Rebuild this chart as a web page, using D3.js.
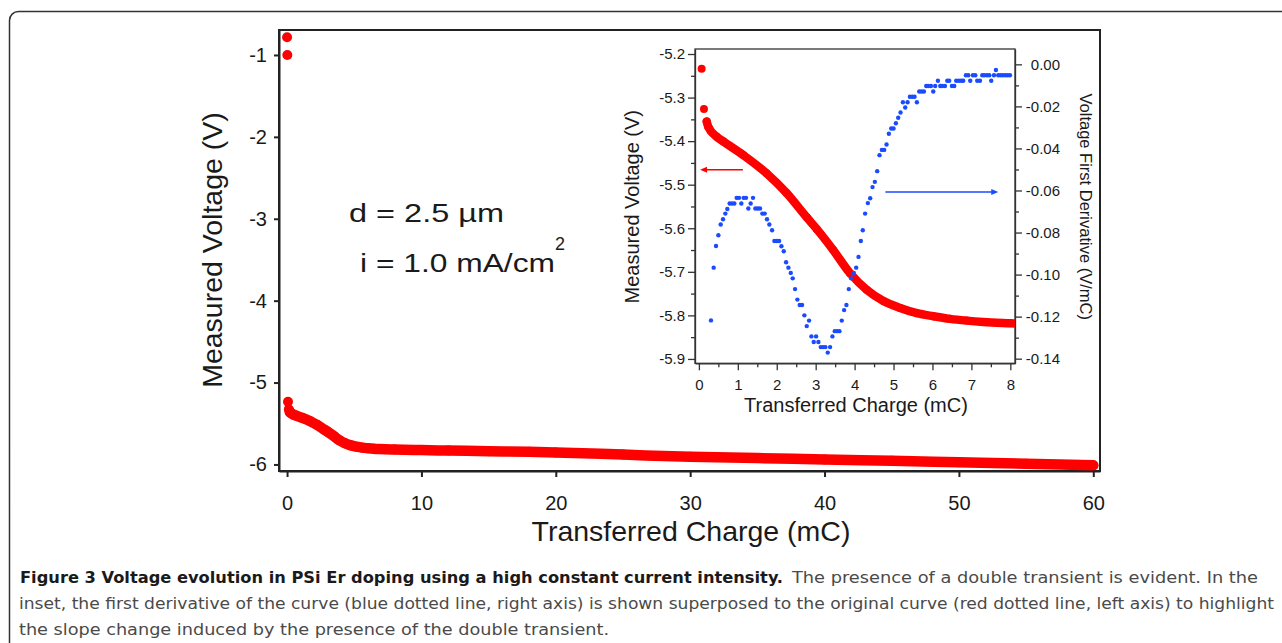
<!DOCTYPE html>
<html>
<head>
<meta charset="utf-8">
<script src="https://cdn.jsdelivr.net/npm/d3@7"></script>
<style>
  body { margin: 0; background: #fff; }
  svg { display: block; }
  text { font-family: "Liberation Sans", Arial, sans-serif; fill: #1a1a1a; }
  .caption text { font-family: "DejaVu Sans Condensed", "DejaVu Sans", sans-serif; font-stretch: condensed; }
</style>
</head>
<body>
<svg id="chart" width="1282" height="643"></svg>
<script>
// Measured voltage (red dotted curve), shared by main plot and inset
const redCharge = [0, 0.02, 0.07, 0.13, 0.2, 0.24, 0.46, 0.63, 1.14, 1.74, 2.25, 2.77, 3.03, 3.45, 3.88,
  4.31, 4.74, 5.17, 5.6, 6.02, 6.45, 6.88, 7.31, 7.99, 10, 12, 15, 18, 20, 25, 30, 35, 40, 45, 50, 55, 60];
const redVoltage = [-0.784, -1.0, -5.234, -5.326, -5.355, -5.367, -5.39, -5.401, -5.432, -5.474, -5.519,
  -5.575, -5.602, -5.65, -5.703, -5.741, -5.767, -5.783, -5.795, -5.802, -5.808, -5.812, -5.815, -5.818,
  -5.825, -5.83, -5.838, -5.845, -5.853, -5.88, -5.907, -5.922, -5.94, -5.956, -5.973, -5.99, -6.01];

// First derivative (blue dotted curve, inset right axis)
const blueCharge = [0.31, 0.38, 0.44, 0.50, 0.56, 0.62, 0.68, 0.73, 0.79, 0.85, 0.91, 0.97, 1.03, 1.09, 1.15,
  1.21, 1.27, 1.33, 1.39, 1.45, 1.51, 1.57, 1.63, 1.69, 1.75, 1.81, 1.88, 1.94, 2.00, 2.06, 2.12, 2.18, 2.24,
  2.30, 2.36, 2.41, 2.47, 2.53, 2.59, 2.65, 2.71, 2.77, 2.83, 2.89, 2.95, 3.01, 3.07, 3.13, 3.19, 3.25, 3.31,
  3.37, 3.43, 3.49, 3.55, 3.61, 3.67, 3.73, 3.79, 3.85, 3.91, 3.98, 4.04, 4.10, 4.16, 4.21, 4.27, 4.34, 4.40,
  4.46, 4.52, 4.58, 4.64, 4.70, 4.76, 4.82, 4.88, 4.94, 5.00, 5.06, 5.12, 5.18, 5.24, 5.30, 5.36, 5.42, 5.48,
  5.54, 5.60, 5.66, 5.72, 5.78, 5.84, 5.89, 5.96, 6.02, 6.07, 6.14, 6.20, 6.25, 6.32, 6.38, 6.43, 6.50, 6.56,
  6.61, 6.68, 6.74, 6.79, 6.86, 6.92, 6.97, 7.04, 7.10, 7.15, 7.22, 7.28, 7.33, 7.40, 7.46, 7.51, 7.58, 7.63,
  7.69, 7.75, 7.81, 7.87, 7.93, 7.99];
const blueDeriv = [-0.1218, -0.0967, -0.0864, -0.0813, -0.0762, -0.0737, -0.0710, -0.0688, -0.0662, -0.0662,
  -0.0662, -0.0635, -0.0635, -0.0662, -0.0635, -0.0635, -0.0686, -0.0662, -0.0635, -0.0686, -0.0686, -0.0686,
  -0.0710, -0.0710, -0.0737, -0.0762, -0.0789, -0.0840, -0.0840, -0.0840, -0.0865, -0.0889, -0.0941, -0.0967,
  -0.0992, -0.1018, -0.1069, -0.1119, -0.1145, -0.1145, -0.1194, -0.1245, -0.1219, -0.1294, -0.1321, -0.1294,
  -0.1321, -0.1345, -0.1345, -0.1345, -0.1371, -0.1345, -0.1294, -0.1269, -0.1269, -0.1269, -0.1219, -0.1169,
  -0.1145, -0.1069, -0.1018, -0.0992, -0.0967, -0.0916, -0.0840, -0.0789, -0.0710, -0.0660, -0.0637, -0.0584,
  -0.0559, -0.0508, -0.0432, -0.0407, -0.0407, -0.0381, -0.0330, -0.0305, -0.0305, -0.0280, -0.0254, -0.0229,
  -0.0180, -0.0205, -0.0180, -0.0154, -0.0154, -0.0154, -0.0180, -0.0129, -0.0129, -0.0129, -0.0103, -0.0103,
  -0.0103, -0.0129, -0.0103, -0.0078, -0.0103, -0.0103, -0.0103, -0.0078, -0.0078, -0.0103, -0.0103, -0.0078,
  -0.0078, -0.0078, -0.0078, -0.0052, -0.0052, -0.0078, -0.0052, -0.0052, -0.0078, -0.0078, -0.0052, -0.0052,
  -0.0052, -0.0052, -0.0078, -0.0052, -0.0027, -0.0052, -0.0052, -0.0052, -0.0052, -0.0052, -0.0052];

// Tick values
const mainXTicks = [0, 10, 20, 30, 40, 50, 60];
const mainYTicks = [-1, -2, -3, -4, -5, -6];
const insetXTicks = [0, 1, 2, 3, 4, 5, 6, 7, 8];
const insetYTicks = [-5.2, -5.3, -5.4, -5.5, -5.6, -5.7, -5.8, -5.9];
const insetY2Ticks = [0, -0.02, -0.04, -0.06, -0.08, -0.10, -0.12, -0.14];

const red = "#ff0000", blue = "#1a4bff", axisColor = "#222";

const svg = d3.select("#chart");
svg.append("rect").attr("width", 1282).attr("height", 643).attr("fill", "#fff");

// Outer figure frame (rounded corner, running off page right/bottom)
svg.append("rect")
  .attr("x", 9.5).attr("y", 11.5).attr("width", 1300).attr("height", 700)
  .attr("rx", 9).attr("fill", "none").attr("stroke", "#333").attr("stroke-width", 1.5);

const redData = redCharge.map((c, i) => ({c, v: redVoltage[i]}));
const blueData = blueCharge.map((c, i) => ({c, d: blueDeriv[i]}));

// ---------- Main plot ----------
const x = d3.scaleLinear().domain([-0.6, 60.5]).range([279, 1100]);
const y = d3.scaleLinear().domain([-6.08, -0.695]).range([471, 30]);

svg.append("rect")
  .attr("x", 279).attr("y", 30).attr("width", 821).attr("height", 441)
  .attr("fill", "none").attr("stroke", axisColor).attr("stroke-width", 2);

const gx = svg.append("g")
  .attr("transform", "translate(0,471)")
  .call(d3.axisBottom(x).tickValues(mainXTicks).tickSize(6).tickSizeOuter(0).tickPadding(19)
    .tickFormat(d => String(d)));
const gy = svg.append("g")
  .attr("transform", "translate(279,0)")
  .call(d3.axisLeft(y).tickValues(mainYTicks).tickSize(5).tickSizeOuter(0).tickPadding(7)
    .tickFormat(d => String(d)));
[gx, gy].forEach(g => {
  g.select(".domain").attr("stroke", axisColor).attr("stroke-width", 2);
  g.selectAll(".tick line").attr("stroke", axisColor).attr("stroke-width", 2);
  g.selectAll(".tick text").attr("font-size", 20).attr("fill", "#1a1a1a")
    .attr("font-family", "'Liberation Sans', Arial, sans-serif");
});

svg.append("text")
  .attr("x", 691).attr("y", 541).attr("text-anchor", "middle").attr("font-size", 28.5)
  .text("Transferred Charge (mC)");
svg.append("text")
  .attr("transform", "translate(222,250) rotate(-90)").attr("text-anchor", "middle").attr("font-size", 28.5)
  .text("Measured Voltage (V)");

svg.append("text").attr("x", 349).attr("y", 222).attr("font-size", 25)
  .attr("textLength", 155).attr("lengthAdjust", "spacingAndGlyphs").text("d = 2.5 µm");
svg.append("text").attr("x", 360).attr("y", 272).attr("font-size", 25)
  .attr("textLength", 195).attr("lengthAdjust", "spacingAndGlyphs").text("i = 1.0 mA/cm");
svg.append("text").attr("x", 555).attr("y", 250).attr("font-size", 18).text("2");

// Red curve: dense dots drawn as a thick round band plus individual dots
const mainLine = d3.line().x(d => x(d.c)).y(d => y(d.v)).curve(d3.curveMonotoneX);
svg.append("path")
  .datum(redData.slice(4))
  .attr("d", mainLine)
  .attr("fill", "none").attr("stroke", red).attr("stroke-width", 10.5)
  .attr("stroke-linecap", "round").attr("stroke-linejoin", "round");
svg.append("g").selectAll("circle")
  .data(redData)
  .join("circle")
  .attr("cx", d => x(d.c)).attr("cy", d => y(d.v)).attr("r", 5).attr("fill", red);

// ---------- Inset ----------
const ix = d3.scaleLinear().domain([-0.1, 8.12]).range([695, 1015]);
const iy = d3.scaleLinear().domain([-5.91, -5.1885]).range([363.3, 49]);
const iy2 = d3.scaleLinear().domain([-0.1422, 0.0073]).range([363.3, 49]);

svg.append("rect")
  .attr("x", 695).attr("y", 49).attr("width", 320).attr("height", 314.3)
  .attr("fill", "#fff").attr("stroke", "#333").attr("stroke-width", 1.3);

svg.append("clipPath").attr("id", "insetClip")
  .append("rect").attr("x", 695).attr("y", 49).attr("width", 320).attr("height", 314.3);

function styleInsetAxis(g) {
  g.select(".domain").attr("stroke", "#333").attr("stroke-width", 1.3);
  g.selectAll(".tick line").attr("stroke", "#333").attr("stroke-width", 1.3);
  g.selectAll(".tick text").attr("font-size", 15).attr("fill", "#1a1a1a")
    .attr("font-family", "'Liberation Sans', Arial, sans-serif");
}

// minor ticks
const minorX = d3.range(0.5, 8, 1);
const minorY = d3.range(-5.85, -5.2, 0.1);
const minorY2 = d3.range(-0.13, 0.005, 0.02);

const ixg = svg.append("g").attr("transform", "translate(0,363.3)")
  .call(d3.axisBottom(ix).tickValues(insetXTicks).tickSize(7).tickSizeOuter(0).tickPadding(8.7)
    .tickFormat(d => String(d)));
svg.append("g").attr("transform", "translate(0,363.3)")
  .call(d3.axisBottom(ix).tickValues(minorX).tickSize(4).tickSizeOuter(0).tickFormat(""))
  .call(g => g.select(".domain").remove())
  .call(styleInsetAxis);
styleInsetAxis(ixg);

const iyg = svg.append("g").attr("transform", "translate(695,0)")
  .call(d3.axisLeft(iy).tickValues(insetYTicks).tickSize(7).tickSizeOuter(0).tickPadding(3)
    .tickFormat(d => d.toFixed(1)));
svg.append("g").attr("transform", "translate(695,0)")
  .call(d3.axisLeft(iy).tickValues(minorY).tickSize(4).tickSizeOuter(0).tickFormat(""))
  .call(g => g.select(".domain").remove())
  .call(styleInsetAxis);
styleInsetAxis(iyg);

const iy2g = svg.append("g").attr("transform", "translate(1015,0)")
  .call(d3.axisRight(iy2).tickValues(insetY2Ticks).tickSize(7).tickSizeOuter(0)
    .tickFormat(d => d.toFixed(2)));
svg.append("g").attr("transform", "translate(1015,0)")
  .call(d3.axisRight(iy2).tickValues(minorY2).tickSize(4).tickSizeOuter(0).tickFormat(""))
  .call(g => g.select(".domain").remove())
  .call(styleInsetAxis);
styleInsetAxis(iy2g);
iy2g.selectAll(".tick text").attr("x", 45).attr("text-anchor", "end");

svg.append("text")
  .attr("x", 856).attr("y", 411.7).attr("text-anchor", "middle").attr("font-size", 20)
  .text("Transferred Charge (mC)");
svg.append("text")
  .attr("transform", "translate(639.3,206.7) rotate(-90)").attr("text-anchor", "middle").attr("font-size", 20)
  .text("Measured Voltage (V)");
svg.append("text")
  .attr("transform", "translate(1080,206.7) rotate(90)").attr("text-anchor", "middle").attr("font-size", 16.5)
  .text("Voltage First Derivative (V/mC)");

const inset = svg.append("g").attr("clip-path", "url(#insetClip)");

const insetLine = d3.line().x(d => ix(d.c)).y(d => iy(d.v)).curve(d3.curveMonotoneX);
inset.append("path")
  .datum(redData.slice(4, 25))
  .attr("d", insetLine)
  .attr("fill", "none").attr("stroke", red).attr("stroke-width", 8.5)
  .attr("stroke-linecap", "round").attr("stroke-linejoin", "round");
inset.append("g").selectAll("circle")
  .data(redData.slice(0, 25))
  .join("circle")
  .attr("cx", d => ix(d.c)).attr("cy", d => iy(d.v)).attr("r", 4).attr("fill", red);

inset.append("g").selectAll("circle")
  .data(blueData)
  .join("circle")
  .attr("cx", d => ix(d.c)).attr("cy", d => iy2(d.d)).attr("r", 2.2).attr("fill", blue);

// Axis arrows
function arrow(x1, x2, yy, color) {
  const dir = Math.sign(x2 - x1);
  svg.append("line").attr("x1", x1).attr("x2", x2 - dir * 4).attr("y1", yy).attr("y2", yy)
    .attr("stroke", color).attr("stroke-width", 1.5);
  svg.append("path")
    .attr("d", `M${x2},${yy} L${x2 - dir * 7},${yy - 3} L${x2 - dir * 7},${yy + 3} Z`)
    .attr("fill", color);
}
arrow(ix(1.13), ix(0.03), iy(-5.4655), red);
arrow(ix(4.79), ix(7.69), iy2(-0.0607), blue);

// ---------- Caption ----------
const cap = svg.append("g").attr("class", "caption").attr("font-size", 16.5);
cap.append("text").attr("x", 20).attr("y", 583).attr("font-weight", "bold")
  .attr("textLength", 763).attr("lengthAdjust", "spacingAndGlyphs").style("fill", "#1a1a1a")
  .text("Figure 3 Voltage evolution in PSi Er doping using a high constant current intensity.");
cap.append("text").attr("x", 792).attr("y", 583)
  .attr("textLength", 466).attr("lengthAdjust", "spacingAndGlyphs").style("fill", "#4a4a4a")
  .text("The presence of a double transient is evident. In the");
cap.append("text").attr("x", 19).attr("y", 609)
  .attr("textLength", 1255).attr("lengthAdjust", "spacingAndGlyphs").style("fill", "#4a4a4a")
  .text("inset, the first derivative of the curve (blue dotted line, right axis) is shown superposed to the original curve (red dotted line, left axis) to highlight");
cap.append("text").attr("x", 19).attr("y", 635)
  .attr("textLength", 590).attr("lengthAdjust", "spacingAndGlyphs").style("fill", "#4a4a4a")
  .text("the slope change induced by the presence of the double transient.");
</script>
</body>
</html>
